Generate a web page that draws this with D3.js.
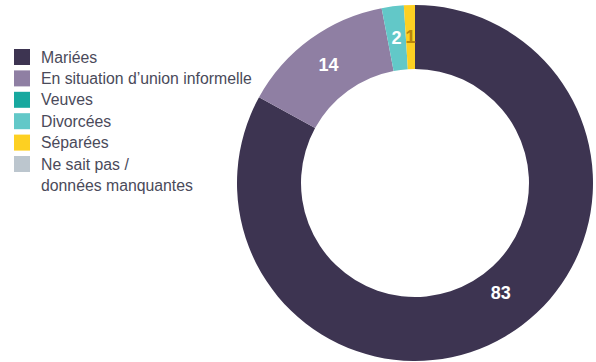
<!DOCTYPE html>
<html><head><meta charset="utf-8">
<script src="https://cdn.jsdelivr.net/npm/d3@7"></script>
<style>body{margin:0;background:#fff}svg{display:block}</style>
</head><body>
<script>
const categories = ["Mariées","En situation d\u2019union informelle","Veuves","Divorcées","Séparées","Ne sait pas /\ndonnées manquantes"];
const values = [83,14,0,2,1,0];
const colors = ["#3d3451","#8f7fa3","#17a89f","#62c8c8","#fdd022","#bcc6ce"];
const labelColors = ["#ffffff","#ffffff","#ffffff","#ffffff","#b8860b","#ffffff"];

const W=596,H=362;
const svg=d3.select("body").append("svg").attr("width",W).attr("height",H);
const cx=415, cy=183, R=178, r0=114;
const data = categories.map((c,i)=>({c,v:values[i],col:colors[i],lc:labelColors[i],i}));
const pie=d3.pie().sort(null).value(d=>d.v);
const arcs=pie(data);
const arc=d3.arc().innerRadius(r0).outerRadius(R);
const g=svg.append("g").attr("transform",`translate(${cx},${cy})`);
g.selectAll("path").data(arcs.filter(a=>a.data.v>0)).join("path").attr("d",arc).attr("fill",d=>d.data.col);
g.selectAll("text").data(arcs.filter(a=>a.data.v>0)).join("text")
  .attr("transform",d=>{
    let a=(d.startAngle+d.endAngle)/2;
    let rr=147;
    if(d.data.i===0){a-=0.13;rr=139;}
    return `translate(${rr*Math.sin(a)},${-rr*Math.cos(a)})`;})
  .attr("text-anchor","middle").attr("dy","0.36em")
  .attr("font-family","Liberation Sans, Arial, sans-serif").attr("font-weight","bold").attr("font-size",18)
  .attr("fill",d=>d.data.lc).text(d=>d.data.v);

const lg=svg.append("g");
const rowH=21.4, y0=49;
data.forEach((d,i)=>{
  const y=y0+i*rowH;
  lg.append("rect").attr("x",14).attr("y",y).attr("width",16).attr("height",16).attr("fill",d.col);
  const lines=d.c.split("\n");
  lines.forEach((t,j)=>{
    lg.append("text").attr("x",41).attr("y",y+8+j*rowH).attr("dy","0.35em")
      .attr("font-family","Liberation Sans, Arial, sans-serif").attr("font-size",15.8).attr("fill","#4a4a5a").text(t);
  });
});
</script>
</body></html>
